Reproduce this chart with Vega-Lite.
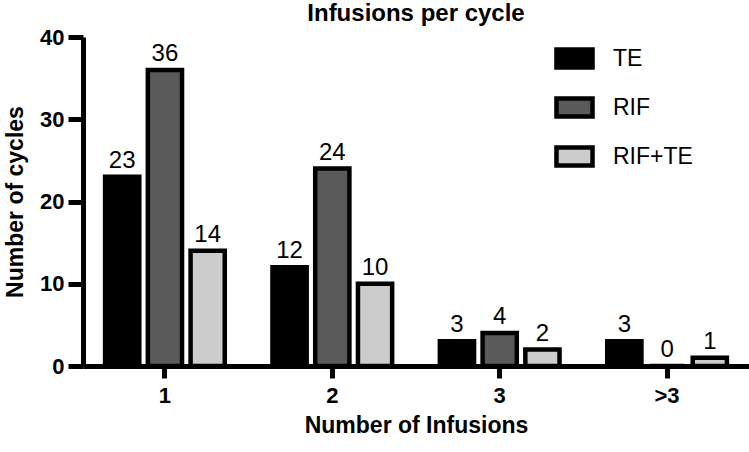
{
  "$schema": "https://vega.github.io/schema/vega-lite/v6.json",
  "width": 666,
  "height": 329,
  "padding": {"left": 83, "top": 37, "right": 0, "bottom": 86},
  "autosize": "none",
  "background": "white",
  "config": {
    "view": {"stroke": null},
    "font": "Liberation Sans",
    "axis": {"grid": false}
  },
  "title": {
    "text": "Infusions per cycle",
    "fontSize": 24,
    "fontWeight": "bold",
    "font": "Liberation Sans",
    "color": "black",
    "anchor": "middle",
    "offset": 0
  },
  "data": {
    "values": [
      {"inf": "1", "group": "TE", "n": 23},
      {"inf": "1", "group": "RIF", "n": 36},
      {"inf": "1", "group": "RIF+TE", "n": 14},
      {"inf": "2", "group": "TE", "n": 12},
      {"inf": "2", "group": "RIF", "n": 24},
      {"inf": "2", "group": "RIF+TE", "n": 10},
      {"inf": "3", "group": "TE", "n": 3},
      {"inf": "3", "group": "RIF", "n": 4},
      {"inf": "3", "group": "RIF+TE", "n": 2},
      {"inf": ">3", "group": "TE", "n": 3},
      {"inf": ">3", "group": "RIF", "n": 0},
      {"inf": ">3", "group": "RIF+TE", "n": 1}
    ]
  },
  "encoding": {
    "x": {
      "field": "inf",
      "type": "nominal",
      "sort": ["1", "2", "3", ">3"],
      "scale": {"paddingInner": 0.285, "paddingOuter": 0.132},
      "axis": {
        "title": "Number of Infusions",
        "titleFontSize": 23,
        "titleFontWeight": "bold",
        "titleColor": "black",
        "titlePadding": 8,
        "labelFontSize": 22,
        "labelFontWeight": "bold",
        "labelColor": "black",
        "labelAngle": 0,
        "labelPadding": 7,
        "domainColor": "black",
        "domainWidth": 5,
        "tickColor": "black",
        "tickWidth": 5,
        "tickSize": 12
      }
    },
    "xOffset": {
      "field": "group",
      "type": "nominal",
      "sort": ["TE", "RIF", "RIF+TE"],
      "scale": {"paddingInner": 0.2, "paddingOuter": 0}
    },
    "y": {
      "field": "n",
      "type": "quantitative",
      "scale": {"domain": [0, 40], "nice": false},
      "axis": {
        "values": [0, 10, 20, 30, 40],
        "title": "Number of cycles",
        "titleFontSize": 23,
        "titleFontWeight": "bold",
        "titleColor": "black",
        "titlePadding": 12,
        "labelFontSize": 22,
        "labelFontWeight": "bold",
        "labelColor": "black",
        "labelPadding": 4,
        "domainColor": "black",
        "domainWidth": 5,
        "tickColor": "black",
        "tickWidth": 5,
        "tickSize": 15
      }
    }
  },
  "layer": [
    {
      "mark": {"type": "bar", "stroke": "black", "strokeWidth": 4.5},
      "encoding": {
        "color": {
          "field": "group",
          "type": "nominal",
          "sort": ["TE", "RIF", "RIF+TE"],
          "scale": {"domain": ["TE", "RIF", "RIF+TE"], "range": ["#000000", "#5a5a5a", "#cccccc"]},
          "legend": {
            "title": null,
            "orient": "none",
            "legendX": 471,
            "legendY": 1,
            "symbolType": "M-1,-0.5H1V0.5H-1Z",
            "symbolSize": 1300,
            "symbolStrokeColor": "black",
            "symbolStrokeWidth": 4.5,
            "symbolOpacity": 1,
            "labelFontSize": 23,
            "labelColor": "black",
            "labelOffset": 18,
            "rowPadding": 10
          }
        }
      }
    },
    {
      "mark": {"type": "text", "baseline": "alphabetic", "dy": -9, "fontSize": 24, "color": "black"},
      "encoding": {"text": {"field": "n", "type": "quantitative"}}
    }
  ]
}
